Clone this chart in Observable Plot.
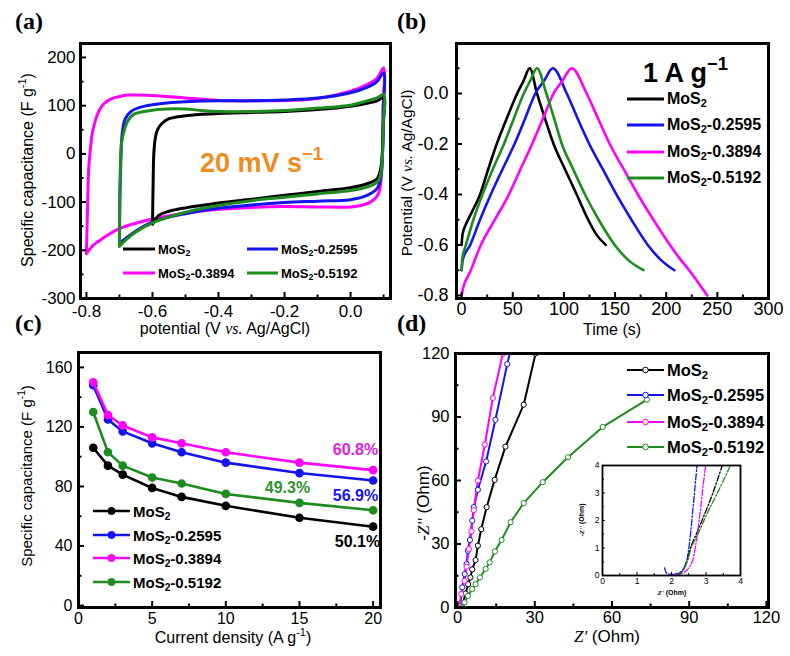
<!DOCTYPE html>
<html><head><meta charset="utf-8">
<script src="https://cdn.jsdelivr.net/npm/d3@7"></script>
<script src="https://cdn.jsdelivr.net/npm/@observablehq/plot@0.6"></script>
<style>
html,body{margin:0;padding:0;background:#fff;}
#fig{position:relative;width:790px;height:656px;overflow:hidden;background:#fff;font-family:"Liberation Sans",Arimo,Arial,Helvetica,sans-serif;color:#000;}
.box{position:absolute;}
.box svg{display:block;overflow:visible;}
.t{position:absolute;white-space:nowrap;line-height:1;}
.rot{transform:translate(-50%,-50%) rotate(-90deg);}
.ctr{transform:translate(-50%,-50%);}
.lc{transform:translate(0,-50%);}
.pl{font-family:"Liberation Serif","Times New Roman",serif;font-weight:bold;font-size:24px;}
sub{font-size:0.68em;vertical-align:-0.32em;line-height:0;}
sup{font-size:0.68em;vertical-align:0.6em;line-height:0;}
.it{font-family:"Liberation Serif","Times New Roman",serif;font-style:italic;}
.b{font-weight:bold;}
</style></head><body><div id="fig"></div><script>
// ---------- colours / series names ----------
const seriesNames = ["MoS2", "MoS2-0.2595", "MoS2-0.3894", "MoS2-0.5192"];
const seriesColors = ["#000000", "#1414f0", "#ff00ff", "#1e8c1e"];

// ---------- (a) CV at 20 mV/s : [potential V, capacitance F/g] ----------
const cvMoS2 = [[-0.6,-146],[-0.598,-60],[-0.596,0],[-0.592,30],[-0.585,50],[-0.57,64],[-0.55,73],[-0.5,79],[-0.45,82],[-0.4,84],[-0.3,86],[-0.2,88],[-0.1,92],[0.0,99],[0.05,105],[0.08,110],[0.1,117],
  [0.099,60],[0.097,10],[0.094,-20],[0.088,-40],[0.08,-52],[0.05,-62],[0.0,-70],[-0.1,-78],[-0.2,-86],[-0.3,-94],[-0.4,-102],[-0.5,-112],[-0.55,-119],[-0.58,-127],[-0.6,-146]];
const cv2595 = [[-0.7,-185],[-0.699,-100],[-0.696,-20],[-0.692,40],[-0.683,72],[-0.665,88],[-0.636,97],[-0.6,102],[-0.55,106],[-0.5,108],[-0.4,110],[-0.3,110],[-0.2,112],[-0.1,116],[0.0,127],[0.05,138],[0.08,150],[0.1,168],
  [0.099,90],[0.097,10],[0.094,-35],[0.088,-60],[0.08,-72],[0.05,-86],[0.0,-95],[-0.1,-98],[-0.2,-101],[-0.3,-106],[-0.4,-113],[-0.5,-124],[-0.6,-141],[-0.65,-160],[-0.68,-175],[-0.7,-185]];
const cv3894 = [[-0.8,-207],[-0.797,-120],[-0.793,-30],[-0.788,10],[-0.783,40],[-0.773,69],[-0.76,92],[-0.747,104],[-0.725,114],[-0.7,119],[-0.677,122],[-0.65,122],[-0.6,121],[-0.5,116],[-0.4,111],[-0.3,110],[-0.2,111],[-0.1,115],[0.0,130],[0.05,144],[0.08,157],[0.1,178],
  [0.099,100],[0.097,20],[0.094,-40],[0.088,-75],[0.08,-88],[0.06,-100],[0.03,-107],[0.0,-110],[-0.1,-110],[-0.2,-109],[-0.3,-111],[-0.4,-115],[-0.5,-123],[-0.6,-135],[-0.7,-155],[-0.75,-175],[-0.78,-190],[-0.8,-207]];
const cv5192 = [[-0.7,-192],[-0.699,-100],[-0.697,-20],[-0.694,20],[-0.687,45],[-0.675,68],[-0.657,82],[-0.606,90],[-0.556,93],[-0.5,93],[-0.45,90],[-0.4,88],[-0.3,88],[-0.2,90],[-0.1,95],[0.0,101],[0.05,110],[0.08,116],[0.1,123],
  [0.099,60],[0.097,0],[0.094,-30],[0.088,-50],[0.08,-59],[0.05,-69],[0.0,-76],[-0.1,-83],[-0.2,-90],[-0.3,-97],[-0.4,-107],[-0.5,-121],[-0.6,-143],[-0.65,-162],[-0.68,-178],[-0.7,-192]];
const aXTicks = [-0.8,-0.6,-0.4,-0.2,0.0];
const aXMinor = [-0.7,-0.5,-0.3,-0.1,0.1];
const aYTicks = [-300,-200,-100,0,100,200];
const aYMinor = [-250,-150,-50,50,150];

// ---------- (b) GCD at 1 A/g : [time s, potential V] ----------
const gcdMoS2 = [[0,-0.6],[0.8,-0.56],[4,-0.52],[10,-0.47],[18.1,-0.4],[26,-0.3],[34.3,-0.2],[44,-0.1],[54.3,0],[60.5,0.05],[66.6,0.1],
  [73.7,0],[81.5,-0.1],[89.9,-0.2],[101,-0.3],[112.5,-0.4],[122.5,-0.49],[132,-0.56],[141,-0.6]];
const gcd2595 = [[0,-0.7],[1,-0.66],[8.4,-0.6],[18,-0.5],[28.5,-0.4],[40,-0.3],[51.7,-0.2],[62,-0.1],[72.1,0],[80.5,0.05],[89.2,0.1],
  [102.8,0],[113.5,-0.1],[124.8,-0.2],[138,-0.3],[151.3,-0.4],[166,-0.5],[182,-0.6],[195,-0.66],[207.9,-0.7]];
const gcd3894 = [[0,-0.8],[1.5,-0.77],[8,-0.71],[18.8,-0.6],[32.5,-0.5],[46.2,-0.4],[57.5,-0.3],[68.9,-0.2],[79.5,-0.1],[89.9,0],[98.5,0.05],[107.7,0.1],
  [122.2,0],[133.5,-0.1],[144.8,-0.2],[158.5,-0.3],[172.3,-0.4],[187.5,-0.5],[203.7,-0.6],[212.5,-0.65],[222.4,-0.7],[240.2,-0.8]];
const gcd5192 = [[0,-0.7],[0.8,-0.65],[4.2,-0.6],[11.5,-0.5],[20.4,-0.4],[30.5,-0.3],[41.4,-0.2],[51,-0.1],[60.8,0],[67,0.05],[73.7,0.1],
  [82.8,0],[90.5,-0.1],[98,-0.2],[109,-0.3],[120.6,-0.4],[134,-0.5],[149.7,-0.6],[163,-0.66],[177.8,-0.7]];
const bXTicks = [0,50,100,150,200,250,300];
const bXMinor = [25,75,125,175,225,275];
const bYTicks = [-0.8,-0.6,-0.4,-0.2,0.0];
const bYMinor = [-0.7,-0.5,-0.3,-0.1,0.1];

// ---------- (c) rate capability ----------
const currentDensity = [1,2,3,5,7,10,15,20];
const capMoS2 = [106,94,88,79,73,67,59,53];
const cap2595 = [148,125,117,109,103,96,89,84];
const cap3894 = [150,128,121,113,109,103,96,91];
const cap5192 = [130,103,94,86,82,75,69,64];
const retention = ["50.1%","56.9%","60.8%","49.3%"];
const cXTicks = [0,5,10,15,20];
const cXMinor = [2.5,7.5,12.5,17.5];
const cYTicks = [0,40,80,120,160];
const cYMinor = [20,60,100,140];

// ---------- (d) Nyquist : [Z' Ohm, -Z'' Ohm] ----------
const eisMoS2 = [[1.8,0.5],[3.1,6.6],[4.1,11],[5,14.2],[5.7,18],[7,22.4],[7.9,29.2],[9.2,37],[11.3,47.4],[14.4,60.3],[18.6,76],[25.7,95.8],[30.3,120],[31,124]];
const eis2595 = [[1.0,0.5],[1.8,9.5],[2.8,15.8],[3.5,20.5],[4,26.8],[4.8,31.9],[5.7,41],[6.3,47.4],[7.9,55.6],[11.1,69],[14.7,88.7],[19.3,115],[20.7,122]];
const eis3894 = [[0.8,0.5],[1.4,6.3],[2.7,12.6],[3.5,19.3],[4.4,27.6],[5.4,36],[6.3,46],[7.9,60],[10.6,77],[13.7,99],[17.6,120],[18,122]];
const eis5192 = [[1.6,0],[2.7,2.4],[4,5.5],[5.7,8.7],[7,11],[8.7,14.2],[10.9,18.2],[12.5,21.3],[14.5,26.5],[17.1,31.9],[20.6,40.3],[25.7,49.3],[33.1,59.2],[42.9,71],[56.4,85.3],[73.6,98.2]];
const dTicks = [0,30,60,90,120];
const dMinor = [15,45,75,105];
// inset (high-frequency region)
const insMoS2 = [[2.15,0.02],[2.3,0.15],[2.45,0.55],[2.55,1.0],[2.75,1.6],[2.95,2.2],[3.2,3],[3.47,4]];
const ins2595 = [[1.8,0.28],[1.85,0.1],[1.95,0.04],[2.1,0.05],[2.25,0.12],[2.4,0.35],[2.48,0.8],[2.55,1.5],[2.62,2.4],[2.68,3.2],[2.74,4]];
const ins3894 = [[2.05,0.02],[2.25,0.05],[2.45,0.2],[2.6,0.5],[2.7,1.1],[2.78,1.8],[2.85,2.5],[2.92,3.3],[2.99,4]];
const ins5192 = [[2.2,0.0],[2.35,0.2],[2.48,0.6],[2.57,1.0],[2.8,1.6],[3.05,2.3],[3.35,3.05],[3.71,4]];
const insTicks = [0,1,2,3,4];
const insMinor = [0.5,1.5,2.5,3.5];

// ---------- helpers ----------
const FONT = '"Liberation Sans", Arimo, Arial, Helvetica, sans-serif';
const fig = document.getElementById("fig");
function place(el, left, top) {
  const d = document.createElement("div");
  d.className = "box"; d.style.left = left + "px"; d.style.top = top + "px";
  d.appendChild(el); fig.appendChild(d);
}
function txt(html, x, y, cls, style) {
  const d = document.createElement("div");
  d.className = "t " + (cls || "");
  d.style.left = x + "px"; d.style.top = y + "px";
  if (style) d.style.cssText += style;
  d.innerHTML = html; fig.appendChild(d); return d;
}
function nameHTML(n) { return n.replace("MoS2", "MoS<sub>2</sub>"); }
function legendItem(x1, x2, y, color, name, fs, marker, lw) {
  const w = x2 - x1;
  let m = "";
  if (marker === "dot") m = `<circle cx="${w/2}" cy="7" r="3.6" fill="${color}" stroke="${color}"/>`;
  if (marker === "open") m = `<circle cx="${w/2}" cy="7" r="2.8" fill="#fff" stroke="${color}" stroke-width="1"/>`;
  const s = document.createElement("div");
  s.className = "box"; s.style.left = x1 + "px"; s.style.top = (y - 7) + "px";
  s.innerHTML = `<svg width="${w}" height="14"><line x1="0" x2="${w}" y1="7" y2="7" stroke="${color}" stroke-width="${lw||3}"/>${m}</svg>`;
  fig.appendChild(s);
  txt(nameHTML(name), x2 + 3, y, "lc b", `font-size:${fs}px;`);
}

function panel(o) {
  const innerW = o.width - o.ml - o.mr, innerH = o.height - o.mt - o.mb;
  const tl = o.tl ?? 6, tm = o.tm ?? 3.5, tw = o.tw ?? 2;
  const marks = [
    ...(o.under || []),
    ...o.marks,
    Plot.tickX(o.xMajor, {x: d => d, insetTop: innerH - tl, strokeWidth: tw}),
    Plot.tickX(o.xMinor, {x: d => d, insetTop: innerH - tm, strokeWidth: tw}),
    Plot.tickY(o.yMajor, {y: d => d, insetRight: innerW - tl, strokeWidth: tw}),
    Plot.tickY(o.yMinor, {y: d => d, insetRight: innerW - tm, strokeWidth: tw}),
    Plot.axisX(o.xMajor, {tickSize: 0, tickPadding: o.xPad ?? 5, tickFormat: o.xFmt, fontSize: o.fs, label: null}),
    Plot.axisY(o.yMajor, {tickSize: 0, tickPadding: o.yPad ?? 5, tickFormat: o.yFmt, fontSize: o.fs, label: null}),
    Plot.frame({stroke: "#000", strokeWidth: o.fw ?? 3})
  ];
  const svg = Plot.plot({
    width: o.width, height: o.height,
    marginLeft: o.ml, marginRight: o.mr, marginTop: o.mt, marginBottom: o.mb,
    x: {domain: o.xDomain}, y: {domain: o.yDomain},
    style: {fontFamily: FONT, background: "transparent", overflow: "visible", color: "#000"},
    marks
  });
  place(svg, o.left, o.top);
}
const X = d => d[0], Y = d => d[1];

// ---------- (a) ----------
const cvSets = [cv3894, cv2595, cvMoS2, cv5192];
const cvCols = [seriesColors[2], seriesColors[1], seriesColors[0], seriesColors[3]];
panel({
  left: 0, top: 0, width: 395, height: 322, ml: 80, mr: 5, mt: 43, mb: 24,
  xDomain: [-0.818, 0.121], yDomain: [-300, 229],
  xMajor: aXTicks, xMinor: aXMinor, yMajor: aYTicks, yMinor: aYMinor,
  xFmt: d => d.toFixed(1), yFmt: d => String(d), fs: 17, xPad: 6, yPad: 5,
  marks: cvSets.map((s, i) => Plot.line(s, {x: X, y: Y, stroke: cvCols[i], strokeWidth: 3, curve: "catmull-rom"}))
});

// ---------- (b) ----------
const gcdSets = [gcdMoS2, gcd2595, gcd3894, gcd5192];
panel({
  left: 395, top: 0, width: 395, height: 322, ml: 61, mr: 22, mt: 43, mb: 24,
  xDomain: [-5, 300], yDomain: [-0.812, 0.198],
  xMajor: bXTicks, xMinor: bXMinor, yMajor: bYTicks, yMinor: bYMinor,
  xFmt: d => String(d), yFmt: d => d.toFixed(1), fs: 18, xPad: 4, yPad: 8,
  marks: gcdSets.map((s, i) => Plot.line(s, {x: X, y: Y, stroke: seriesColors[i], strokeWidth: 2.6, curve: "monotone-x"}))
});

// ---------- (c) ----------
const capSets = [capMoS2, cap2595, cap3894, cap5192];
const pctColors = ["#000000", "#1414f0", "#e020e0", "#2a952a"];
const pctOffsets = [[7, 15], [5, 15], [5, -20], [-63, -22]];
const cMarks = [];
capSets.forEach((s, i) => {
  const pts = currentDensity.map((c, j) => ({c, v: s[j]}));
  cMarks.push(Plot.line(pts, {x: "c", y: "v", stroke: seriesColors[i], strokeWidth: 2.6}));
  cMarks.push(Plot.dot(pts, {x: "c", y: "v", r: 3.6, fill: seriesColors[i], stroke: seriesColors[i]}));
});
capSets.forEach((s, i) => {
  const last = [{c: currentDensity[currentDensity.length - 1], v: s[s.length - 1], t: retention[i]}];
  cMarks.push(Plot.text(last, {x: "c", y: "v", text: "t", dx: pctOffsets[i][0], dy: pctOffsets[i][1], textAnchor: "end",
    fill: pctColors[i], fontWeight: "bold", fontSize: 16}));
});
panel({
  left: 0, top: 330, width: 395, height: 300, ml: 78, mr: 15, mt: 22, mb: 23,
  xDomain: [0, 20.5], yDomain: [-1.3, 170],
  xMajor: cXTicks, xMinor: cXMinor, yMajor: cYTicks, yMinor: cYMinor,
  xFmt: d => String(d), yFmt: d => String(d), fs: 16, xPad: 5, yPad: 6,
  marks: cMarks
});

// ---------- (d) ----------
const eisSets = [eisMoS2, eis2595, eis3894, eis5192];
const dMarks = [];
eisSets.forEach((s, i) => {
  dMarks.push(Plot.line(s, {x: X, y: Y, stroke: seriesColors[i], strokeWidth: 2, clip: true}));
});
eisSets.forEach((s, i) => {
  dMarks.push(Plot.dot(s.filter(p => p[1] <= 120), {x: X, y: Y, r: 2.6, fill: "#fff", stroke: seriesColors[i], strokeWidth: 1, clip: true}));
});
panel({
  left: 395, top: 330, width: 395, height: 300, ml: 60, mr: 22, mt: 23, mb: 23,
  xDomain: [-0.8, 120.8], yDomain: [0, 120],
  xMajor: dTicks, xMinor: dMinor, yMajor: dTicks, yMinor: dMinor,
  xFmt: d => String(d), yFmt: d => String(d), fs: 16.5, xPad: 4, yPad: 6,
  marks: dMarks
});
// inset
const insSets = [insMoS2, ins2595, ins3894, ins5192];
panel({
  left: 560, top: 450, width: 190, height: 145, ml: 42, mr: 10, mt: 15, mb: 20,
  xDomain: [0, 4], yDomain: [0, 4],
  xMajor: insTicks, xMinor: insMinor, yMajor: insTicks, yMinor: insMinor,
  xFmt: d => String(d), yFmt: d => String(d), fs: 8.5, xPad: 2, yPad: 3,
  tl: 3, tm: 2, tw: 1, fw: 1.8,
  under: [Plot.frame({fill: "#fff"})],
  marks: insSets.map((s, i) => Plot.line(s, {x: X, y: Y, stroke: seriesColors[i], strokeWidth: 1.3, strokeDasharray: "6,2,1.5,2", curve: "catmull-rom", clip: true}))
});

// ---------- panel letters ----------
txt("(a)", 15, 21, "pl", "transform:translate(0,-50%);");
txt("(b)", 397, 21, "pl", "transform:translate(0,-50%);");
txt("(c)", 15, 323, "pl", "transform:translate(0,-50%);");
txt("(d)", 397, 323, "pl", "transform:translate(0,-50%);");

// ---------- axis titles ----------
txt('Specific capacitance (F g<sup>-1</sup>)', 28, 170, "rot", "font-size:16px;");
txt('potential (V <span class="it">vs.</span> Ag/AgCl)', 225, 329, "ctr", "font-size:16px;");
txt('Potential (V <span class="it">vs.</span> Ag/AgCl)', 407, 173, "rot", "font-size:15.5px;");
txt('Time (s)', 612, 330, "ctr", "font-size:16px;");
txt('Specific capacitance (F g<sup>-1</sup>)', 26, 476, "rot", "font-size:15px;");
txt('Current density (A g<sup>-1</sup>)', 233, 638, "ctr", "font-size:16px;");
txt('-<span class="it">Z\'\'</span> (Ohm)', 423, 503, "rot", "font-size:17px;");
txt('<span class="it">Z\'</span> (Ohm)', 607, 636, "ctr", "font-size:17px;");
txt('<span class="it">Z\'</span> (Ohm)', 672, 593, "ctr b", "font-size:7px;");
txt('-<span class="it">Z\'\'</span> (Ohm)', 582, 520, "rot b", "font-size:7px;");

// ---------- annotations ----------
txt('20 mV s<sup>−1</sup>', 200, 163, "lc b", "font-size:27px;color:#f08c1e;");
txt('1 A g<sup>−1</sup>', 643, 73, "lc b", "font-size:27px;");

// ---------- legends ----------
// (a)
legendItem(123, 155, 249, seriesColors[0], seriesNames[0], 13, null, 3);
legendItem(247, 278, 249, seriesColors[1], seriesNames[1], 13, null, 3);
legendItem(123, 155, 273, seriesColors[2], seriesNames[2], 13, null, 3);
legendItem(247, 278, 273, seriesColors[3], seriesNames[3], 13, null, 3);
// (b)
[99, 125, 152, 178].forEach((y, i) => legendItem(627, 664, y, seriesColors[i], seriesNames[i], 16, null, 3));
// (c)
[511, 535, 558, 582].forEach((y, i) => legendItem(93, 130, y, seriesColors[i], seriesNames[i], 15, "dot", 2.6));
// (d)
[370, 395, 422, 447].forEach((y, i) => legendItem(627, 664, y, seriesColors[i], seriesNames[i], 16.5, "open", 2.2));
</script></body></html>
